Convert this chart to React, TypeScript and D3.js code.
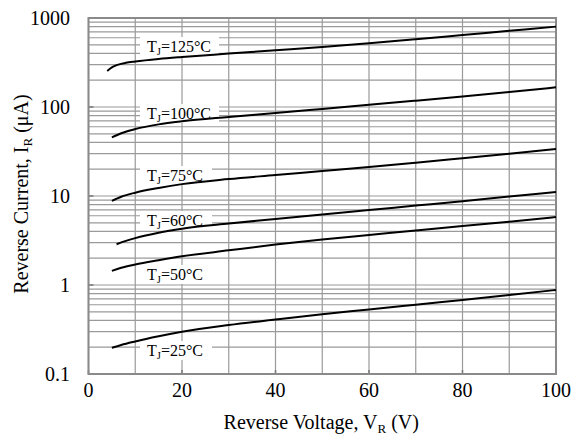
import React from "react";
import * as d3 from "d3";

const voltages125 = [4, 5, 6, 8, 10, 15, 20, 30, 40, 50, 60, 70, 80, 90, 100];
const current125 = [254, 279, 295, 314, 325, 347, 365, 398, 434, 473, 521, 578, 644, 718, 800];
const voltages100 = [5, 7, 10, 15, 20, 30, 40, 50, 60, 70, 80, 90, 100];
const current100 = [45.5, 50.7, 56.5, 63.8, 69.2, 77.3, 85.5, 95, 105.7, 117.8, 131.5, 147.6, 166.3];
const voltages75 = [5, 7, 10, 15, 20, 30, 40, 50, 60, 70, 80, 90, 100];
const current75 = [8.8, 9.8, 10.9, 12.3, 13.6, 15.5, 17.2, 19.1, 21.2, 23.7, 26.6, 29.9, 33.7];
const voltages60 = [6, 8, 10, 15, 20, 30, 40, 50, 60, 70, 80, 90, 100];
const current60 = [2.87, 3.13, 3.36, 3.86, 4.28, 4.9, 5.52, 6.2, 6.95, 7.8, 8.75, 9.85, 11.1];
const voltages50 = [5, 7, 10, 15, 20, 30, 40, 50, 60, 70, 80, 90, 100];
const current50 = [1.44, 1.56, 1.7, 1.9, 2.1, 2.45, 2.85, 3.25, 3.65, 4.1, 4.6, 5.15, 5.8];
const voltages25 = [5, 7, 10, 15, 20, 30, 40, 50, 60, 70, 80, 90, 100];
const current25 = [0.197, 0.212, 0.232, 0.265, 0.298, 0.355, 0.41, 0.47, 0.53, 0.6, 0.68, 0.77, 0.88];

const seriesTemps = ["125", "100", "75", "60", "50", "25"];
const labelY = [52, 119, 181, 226, 280, 356];

const xTicks = [0, 20, 40, 60, 80, 100];
const yTicks = [0.1, 1, 10, 100, 1000];
const yTickLabels = ["0.1", "1", "10", "100", "1000"];

const W = 576;
const H = 441;
const L = 88.5, R = 556, T = 18, B = 374;

export default function App() {
  const x = d3.scaleLinear().domain([0, 100]).range([L, R]);
  const y = d3.scaleLog().domain([0.1, 1000]).range([B, T]);

  const series = [
    [voltages125, current125],
    [voltages100, current100],
    [voltages75, current75],
    [voltages60, current60],
    [voltages50, current50],
    [voltages25, current25],
  ];

  const line = d3
    .line<[number, number]>()
    .x((d) => x(d[0]))
    .y((d) => y(d[1]))
    .curve(d3.curveMonotoneX);

  const hLines: number[] = [];
  for (let dec = 0.1; dec < 1000; dec *= 10) {
    for (let k = 1; k <= 9; k++) hLines.push(dec * k);
  }
  const vLines = d3.range(0, 101, 10);

  const gridColor = "#9a9a9a";
  const font = "'Liberation Serif', 'Times New Roman', serif";

  return (
    <svg
      width={W}
      height={H}
      style={{ position: "absolute", left: 0, top: 0, background: "#fff" }}
      fontFamily={font}
    >
      <rect x={0} y={0} width={W} height={H} fill="#fff" />
      {hLines.map((v, i) => (
        <line key={"h" + i} x1={L} x2={R} y1={y(v)} y2={y(v)} stroke={gridColor} strokeWidth={1.2} />
      ))}
      {vLines.map((v) => (
        <line key={"v" + v} x1={x(v)} x2={x(v)} y1={T} y2={B} stroke={gridColor} strokeWidth={1.2} />
      ))}
      {xTicks.map((v) => (
        <line key={"xt" + v} x1={x(v)} x2={x(v)} y1={B} y2={B - 4} stroke="#777" strokeWidth={1.5} />
      ))}
      {yTicks.map((v) => (
        <line key={"yt" + v} x1={L} x2={L + 5} y1={y(v)} y2={y(v)} stroke="#777" strokeWidth={1.5} />
      ))}
      <rect x={L} y={T} width={R - L} height={B - T} fill="none" stroke="#8a8a8a" strokeWidth={2} />

      {seriesTemps.map((t, i) => (
        <g key={"lab" + t}>
          <rect x={140} y={labelY[i] - 15} width={t.length === 3 ? 79 : 72} height={19} fill="#fff" />
          <text x={147} y={labelY[i]} fontSize={16} fill="#000">
            T<tspan fontSize={10.5} dy={3}>J</tspan>
            <tspan dy={-3}>={t}°C</tspan>
          </text>
        </g>
      ))}

      {series.map(([vs, cs], i) => (
        <path
          key={"s" + i}
          d={line(vs.map((v, j) => [v, cs[j]] as [number, number])) || ""}
          fill="none"
          stroke="#000"
          strokeWidth={2}
        />
      ))}

      {xTicks.map((v) => (
        <text key={"xl" + v} x={x(v)} y={397} textAnchor="middle" fontSize={20} fill="#000">
          {v}
        </text>
      ))}
      {yTicks.map((v, i) => (
        <text key={"yl" + v} x={70} y={y(v) + 7} textAnchor="end" fontSize={20} fill="#000">
          {yTickLabels[i]}
        </text>
      ))}

      <text x={(L + R) / 2 - 1} y={429} textAnchor="middle" fontSize={20} fill="#000">
        Reverse Voltage, V<tspan fontSize={13} dy={4}>R</tspan>
        <tspan dy={-4}> (V)</tspan>
      </text>
      <text
        transform={`translate(28, 194) rotate(-90)`}
        textAnchor="middle"
        fontSize={20}
        fill="#000"
      >
        Reverse Current, I<tspan fontSize={13} dy={4}>R</tspan>
        <tspan dy={-4}> (μA)</tspan>
      </text>
    </svg>
  );
}
